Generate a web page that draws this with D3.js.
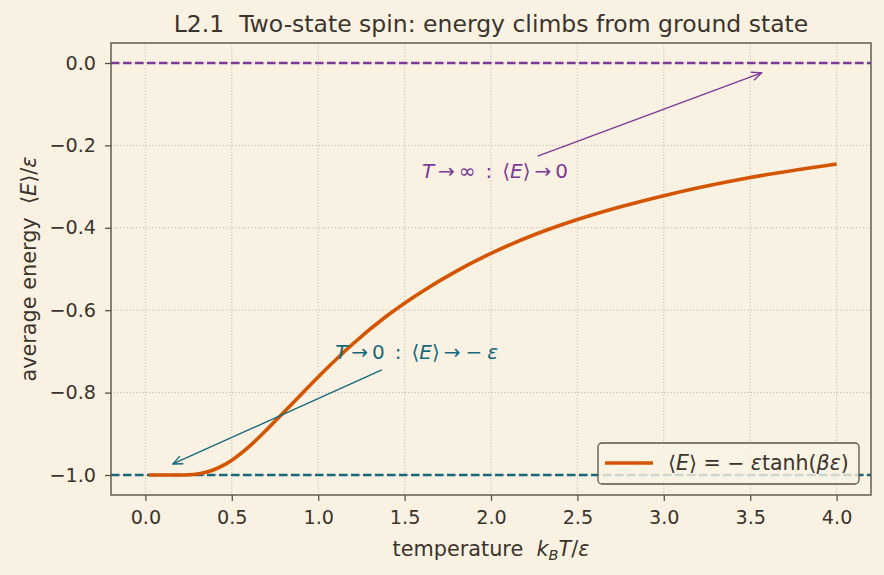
<!DOCTYPE html>
<html>
<head>
<meta charset="utf-8">
<script src="https://cdn.jsdelivr.net/npm/d3@7"></script>
<style>
  body { margin: 0; background: #f9f2e3; }
  svg { font-family: "DejaVu Sans", sans-serif; }
  svg text { white-space: pre; }
</style>
</head>
<body>
<div id="chart"></div>
<script>
// temperature samples (k_B T / eps) and average energy
const temps = [0.02, 0.1, 0.15, 0.2, 0.25, 0.3, 0.35, 0.4, 0.45, 0.5, 0.6, 0.7, 0.8, 0.9, 1.0,
               1.2, 1.4, 1.6, 1.8, 2.0, 2.25, 2.5, 2.75, 3.0, 3.5, 4.0];
const energy = [-1.0, -1.0, -1.0, -0.9999, -0.9993, -0.9975, -0.9934, -0.9866, -0.9767, -0.964,
                -0.931, -0.891, -0.848, -0.805, -0.762, -0.682, -0.613, -0.555, -0.505, -0.462,
                -0.417, -0.380, -0.349, -0.322, -0.278, -0.245];
const limits = [0.0, -1.0];           // dashed reference lines
const xTicks = [0, 0.5, 1, 1.5, 2, 2.5, 3, 3.5, 4];
const yTicks = [-1.0, -0.8, -0.6, -0.4, -0.2, 0.0];

const W = 884, H = 575;
const m = {left: 111, top: 43, right: 13, bottom: 80};
const iw = W - m.left - m.right, ih = H - m.top - m.bottom;

const ink = "#3b342c", spine = "#5b5246";
const orange = "#d45500", purple = "#7b3a96", teal = "#17697a";
const fs = 19.2;

const svg = d3.select("#chart").append("svg")
    .attr("width", W).attr("height", H);
svg.append("rect").attr("width", W).attr("height", H).attr("fill", "#f9f2e3");

const x = d3.scaleLinear().domain([-0.199, 4.199]).range([0, iw]);
const y = d3.scaleLinear().domain([-1.0485, 0.0485]).range([ih, 0]);

const g = svg.append("g").attr("transform", `translate(${m.left},${m.top})`);

// grid
g.append("g").selectAll("line").data(xTicks).enter().append("line")
    .attr("x1", d => x(d)).attr("x2", d => x(d)).attr("y1", 0).attr("y2", ih)
    .attr("stroke", "#b9ae9c").attr("stroke-width", 0.9).attr("stroke-dasharray", "1,2.2");
g.append("g").selectAll("line").data(yTicks).enter().append("line")
    .attr("y1", d => y(d)).attr("y2", d => y(d)).attr("x1", 0).attr("x2", iw)
    .attr("stroke", "#b9ae9c").attr("stroke-width", 0.9).attr("stroke-dasharray", "1,2.2");

// reference lines
g.selectAll(".ref").data(limits).enter().append("line")
    .attr("class", "ref")
    .attr("x1", 0).attr("x2", iw)
    .attr("y1", d => y(d)).attr("y2", d => y(d))
    .attr("stroke", (d, i) => i === 0 ? purple : teal)
    .attr("stroke-width", 2.3).attr("stroke-dasharray", "8.5,3.5");

// curve
const line = d3.line().x(d => x(d[0])).y(d => y(d[1])).curve(d3.curveMonotoneX);
g.append("path").datum(d3.zip(temps, energy))
    .attr("d", line).attr("fill", "none")
    .attr("stroke", orange).attr("stroke-width", 3.6);

// annotations
const defs = svg.append("defs");
[["arrP", purple], ["arrT", teal]].forEach(([id, c]) => {
  defs.append("marker").attr("id", id).attr("viewBox", "0 0 10 10")
      .attr("refX", 9).attr("refY", 5).attr("markerWidth", 12).attr("markerHeight", 12)
      .attr("markerUnits", "userSpaceOnUse").attr("orient", "auto")
    .append("path").attr("d", "M1,1.5 L9,5 L1,8.5").attr("fill", "none")
      .attr("stroke", c).attr("stroke-width", 1.2);
});

g.append("line")
    .attr("x1", x(2.27)).attr("y1", y(-0.226)).attr("x2", x(3.565)).attr("y2", y(-0.024))
    .attr("stroke", purple).attr("stroke-width", 1.4).attr("marker-end", "url(#arrP)");
g.append("line")
    .attr("x1", x(1.368)).attr("y1", y(-0.745)).attr("x2", x(0.159)).attr("y2", y(-0.973))
    .attr("stroke", teal).attr("stroke-width", 1.4).attr("marker-end", "url(#arrT)");

function mathText(sel, parts) {
  parts.forEach(p => {
    sel.append("tspan").text(p[0]).attr("font-style", p[1] ? "italic" : "normal");
  });
}

const af = 20;
const tP = g.append("text").attr("x", x(1.6)).attr("y", y(-0.279))
    .attr("fill", purple).attr("font-size", af);
mathText(tP, [["T", 1], ["\u2009→\u2009∞\u2002:\u2002⟨", 0], ["E", 1], ["⟩\u2009→\u20090", 0]]);

const tT = g.append("text").attr("x", x(1.098)).attr("y", y(-0.719))
    .attr("fill", teal).attr("font-size", af);
mathText(tT, [["T", 1], ["\u2009→\u20090\u2002:\u2002⟨", 0], ["E", 1], ["⟩\u2009→\u2005−\u2005", 0], ["ε", 1]]);

// axes
const xa = g.append("g").attr("transform", `translate(0,${ih})`)
    .call(d3.axisBottom(x).tickValues(xTicks).tickFormat(d3.format(".1f")).tickSize(6).tickPadding(9));
const ya = g.append("g")
    .call(d3.axisLeft(y).tickValues(yTicks).tickFormat(d => d3.format(".1f")(d).replace("-", "−")).tickSize(6).tickPadding(9));
[xa, ya].forEach(a => {
  a.select(".domain").remove();
  a.selectAll("line").attr("stroke", spine).attr("stroke-width", 1.3);
  a.selectAll("text").attr("fill", ink).attr("font-size", fs)
      .attr("font-family", "DejaVu Sans, sans-serif");
});

g.append("rect").attr("width", iw).attr("height", ih)
    .attr("fill", "none").attr("stroke", spine).attr("stroke-width", 1.4);

// legend
const lg = g.append("g").attr("transform", `translate(${598 - m.left},${443 - m.top})`);
lg.append("rect").attr("width", 261).attr("height", 41).attr("rx", 4)
    .attr("fill", "#f9f2e3").attr("fill-opacity", 0.8)
    .attr("stroke", spine).attr("stroke-width", 1.3);
lg.append("line").attr("x1", 7).attr("x2", 55).attr("y1", 20).attr("y2", 20)
    .attr("stroke", orange).attr("stroke-width", 3.6);
const lt = lg.append("text").attr("x", 70).attr("y", 27).attr("fill", ink).attr("font-size", 20.5);
mathText(lt, [["⟨", 0], ["E", 1], ["⟩ = − ", 0], ["ε", 1], ["tanh(", 0], ["βε", 1], [")", 0]]);

// labels
svg.append("text").attr("x", m.left + iw / 2).attr("y", 32).attr("text-anchor", "middle")
    .attr("fill", ink).attr("font-size", 23.5)
    .text("L2.1  Two-state spin: energy climbs from ground state");

const lf = 20.8;
const xl = svg.append("text").attr("x", m.left + iw / 2).attr("y", 556).attr("text-anchor", "middle")
    .attr("fill", ink).attr("font-size", lf);
mathText(xl, [["temperature  ", 0], ["k", 1]]);
xl.append("tspan").text("B").attr("font-style", "italic").attr("font-size", 14.5).attr("dy", 4);
xl.append("tspan").text("T").attr("font-style", "italic").attr("dy", -4);
xl.append("tspan").text("/");
xl.append("tspan").text("ε").attr("font-style", "italic");

const yl = svg.append("text").attr("transform", `translate(36,${m.top + ih / 2}) rotate(-90)`)
    .attr("text-anchor", "middle").attr("fill", ink).attr("font-size", lf);
mathText(yl, [["average energy  ⟨", 0], ["E", 1], ["⟩/", 0], ["ε", 1]]);
</script>
</body>
</html>
